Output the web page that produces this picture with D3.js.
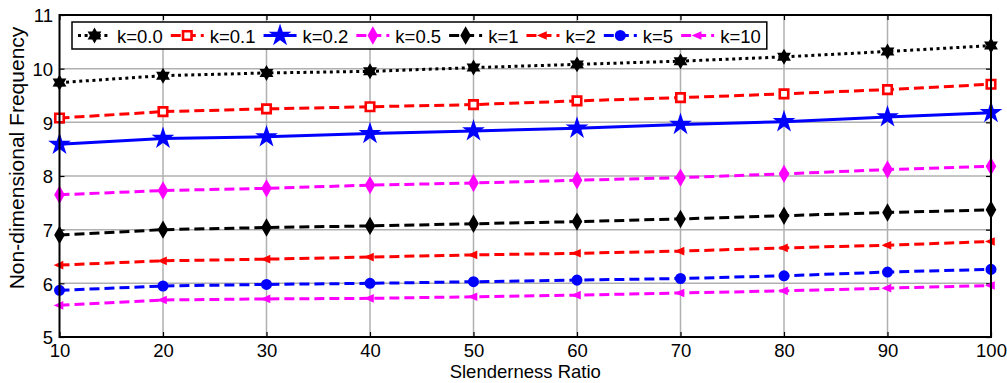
<!DOCTYPE html>
<html>
<head>
<meta charset="utf-8">
<script src="https://cdn.jsdelivr.net/npm/d3@7"></script>
<style>
    body { margin: 0; background: #fff; }
    svg, svg text { font-family: "Liberation Sans", Arial, sans-serif; }
</style>
</head>
<body>
<div id="grafico"></div>
<script>
// values
var slenderness = [10, 20, 30, 40, 50, 60, 70, 80, 90, 100];
var xTicks = [10, 20, 30, 40, 50, 60, 70, 80, 90, 100];
var yTicks = [5, 6, 7, 8, 9, 10, 11];
var seriesNames = ["k=0.0", "k=0.1", "k=0.2", "k=0.5", "k=1", "k=2", "k=5", "k=10"];
var k00 = [9.74, 9.87, 9.92, 9.95, 10.02, 10.08, 10.14, 10.22, 10.32, 10.43];
var k01 = [9.08, 9.20, 9.25, 9.29, 9.33, 9.40, 9.46, 9.53, 9.61, 9.71];
var k02 = [8.59, 8.70, 8.73, 8.79, 8.84, 8.89, 8.96, 9.01, 9.10, 9.18];
var k05 = [7.65, 7.73, 7.77, 7.83, 7.87, 7.92, 7.97, 8.04, 8.12, 8.18];
var k1  = [6.90, 7.00, 7.04, 7.07, 7.11, 7.15, 7.20, 7.26, 7.32, 7.37];
var k2  = [6.34, 6.42, 6.45, 6.49, 6.53, 6.56, 6.60, 6.66, 6.71, 6.78];
var k5  = [5.87, 5.95, 5.98, 6.00, 6.03, 6.06, 6.09, 6.14, 6.21, 6.26];
var k10 = [5.59, 5.69, 5.71, 5.72, 5.75, 5.78, 5.82, 5.86, 5.91, 5.96];

var W = 1007, H = 383;
var m = {top: 15, right: 16, bottom: 46, left: 59.5}
    , w = W - m.left - m.right
    , h = H - m.top - m.bottom;

// hexagram path (6 point star)
function hexagram(r) {
    var pts = [];
    for (var i = 0; i < 12; i++) {
        var a = -Math.PI / 2 + i * Math.PI / 6;
        var rr = (i % 2 == 0) ? r : r * 0.58;
        pts.push([rr * Math.cos(a), rr * Math.sin(a)]);
    }
    return "M" + pts.map(function(p) { return p[0].toFixed(2) + "," + p[1].toFixed(2); }).join("L") + "Z";
}
function leftTri(r) {
    return "M" + (-r) + ",0L" + (r * 0.8) + "," + (-r * 0.8) + "L" + (r * 0.8) + "," + (r * 0.8) + "Z";
}

var styles = [
    {vals: k00, color: "#000", dash: "3,3.6", marker: function() { return hexagram(6); }, fill: "#000"},
    {vals: k01, color: "#f00", dash: "10,5", marker: function() { return d3.symbol(d3.symbolSquare, 72)(); }, fill: "#fff", sw: 2.6},
    {vals: k02, color: "#00f", dash: null, marker: function() { return d3.symbol(d3.symbolStar, 85)(); }, fill: "#00f"},
    {vals: k05, color: "#f0f", dash: "10,5", marker: function() { return d3.symbol(d3.symbolDiamond, 60)(); }, fill: "#f0f"},
    {vals: k1,  color: "#000", dash: "10,5", marker: function() { return d3.symbol(d3.symbolDiamond, 60)(); }, fill: "#000"},
    {vals: k2,  color: "#f00", dash: "10,5", marker: function() { return leftTri(3.5); }, fill: "#f00"},
    {vals: k5,  color: "#00f", dash: "10,5", marker: function() { return d3.symbol(d3.symbolCircle, 64)(); }, fill: "#00f"},
    {vals: k10, color: "#f0f", dash: "10,5", marker: function() { return leftTri(3.5); }, fill: "#f0f"}
];

var svg = d3.select("#grafico").append("svg")
    .attr("width", W)
    .attr("height", H);

var g = svg.append("g")
    .attr("transform", "translate(" + m.left + "," + m.top + ")");

//Axes and scales
var xScale = d3.scaleLinear().domain([10, 100]).range([0, w]);
var yScale = d3.scaleLinear().domain([5, 11]).range([h, 0]);

//Grid
g.append("g").selectAll("line").data(xTicks.slice(1, -1)).enter().append("line")
    .attr("x1", function(d) { return xScale(d); })
    .attr("x2", function(d) { return xScale(d); })
    .attr("y1", 0).attr("y2", h)
    .attr("stroke", "#b0b0b0").attr("stroke-width", 1.5);
g.append("g").selectAll("line").data(yTicks.slice(1, -1)).enter().append("line")
    .attr("y1", function(d) { return yScale(d); })
    .attr("y2", function(d) { return yScale(d); })
    .attr("x1", 0).attr("x2", w)
    .attr("stroke", "#b0b0b0").attr("stroke-width", 1.5);

//Axes (ticks inward)
var fmt = d3.format("d");
var xAxis = d3.axisBottom(xScale).tickValues(xTicks).tickFormat(fmt).tickSizeInner(-5).tickSizeOuter(0).tickPadding(7);
var yAxis = d3.axisLeft(yScale).tickValues(yTicks).tickFormat(fmt).tickSizeInner(-5).tickSizeOuter(0).tickPadding(6.5);

var gx = g.append("g")
    .attr("transform", "translate(0," + h + ")")
    .call(xAxis);
var gy = g.append("g").call(yAxis);
g.append("g").call(d3.axisTop(xScale).tickValues(xTicks).tickSizeInner(-5).tickSizeOuter(0).tickFormat(""));
g.append("g").attr("transform", "translate(" + w + ",0)")
    .call(d3.axisRight(yScale).tickValues(yTicks).tickSizeInner(-5).tickSizeOuter(0).tickFormat(""));

g.selectAll(".domain").remove();
g.selectAll(".tick line").attr("stroke", "#000").attr("stroke-width", 1.2);
gx.attr("font-family", null);
gy.attr("font-family", null);
gx.selectAll("text").attr("font-size", 18.5).attr("fill", "#000");
gy.selectAll("text").attr("font-size", 18.5).attr("fill", "#000").attr("dy", "0.36em");

//Lines and markers
var line = d3.line()
    .x(function(d, i) { return xScale(slenderness[i]); })
    .y(function(d) { return yScale(d); });

styles.forEach(function(s) {
    g.append("path")
        .attr("d", line(s.vals))
        .attr("fill", "none")
        .attr("stroke", s.color)
        .attr("stroke-width", 3)
        .attr("stroke-dasharray", s.dash);
    g.append("g").selectAll("path").data(s.vals).enter().append("path")
        .attr("transform", function(d, i) { return "translate(" + xScale(slenderness[i]) + "," + yScale(d) + ")"; })
        .attr("d", s.marker())
        .attr("fill", s.fill)
        .attr("stroke", s.color)
        .attr("stroke-width", s.sw || 2);
});

//Box
g.append("rect")
    .attr("width", w).attr("height", h)
    .attr("fill", "none").attr("stroke", "#000").attr("stroke-width", 2);

//Legend
var leg = svg.append("g");
var legBox = leg.append("rect")
    .attr("x", 72).attr("y", 22).attr("height", 27)
    .attr("fill", "#fff").attr("stroke", "#000").attr("stroke-width", 1.5);
var lx = 78;
styles.forEach(function(s, i) {
    leg.append("line")
        .attr("x1", lx).attr("x2", lx + 33)
        .attr("y1", 35.5).attr("y2", 35.5)
        .attr("stroke", s.color).attr("stroke-width", 3)
        .attr("stroke-dasharray", s.dash);
    leg.append("path")
        .attr("transform", "translate(" + (lx + 16.5) + ",35.5)")
        .attr("d", s.marker())
        .attr("fill", s.fill).attr("stroke", s.color).attr("stroke-width", s.sw || 2);
    var t = leg.append("text")
        .attr("x", lx + 39).attr("y", 42.5)
        .attr("font-size", 18.5)
        .text(seriesNames[i]);
    lx = lx + 39 + t.node().getComputedTextLength() + 8;
});
legBox.attr("width", lx - 2 - 72);

// axis labels
svg.append("text")
    .attr("x", m.left + w / 2).attr("y", 377.5)
    .attr("text-anchor", "middle")
    .attr("font-size", 18.5)
    .text("Slenderness Ratio");

svg.append("text")
    .attr("transform", "translate(24,158) rotate(-90)")
    .attr("text-anchor", "middle")
    .attr("font-size", 21)
    .text("Non-dimensional Frequency");
</script>
</body>
</html>
